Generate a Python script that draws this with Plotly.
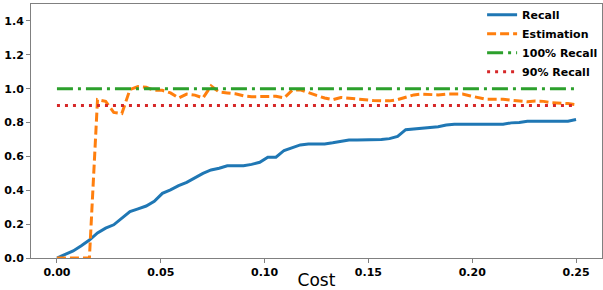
import plotly.graph_objects as go

cost = [0.0, 0.00391, 0.00781, 0.01172, 0.01563, 0.01953, 0.02344, 0.02734, 0.03125, 0.03516,
        0.03906, 0.04297, 0.04688, 0.05078, 0.05469, 0.05859, 0.0625, 0.06641, 0.07031, 0.07422,
        0.07813, 0.08203, 0.08594, 0.08984, 0.09375, 0.09766, 0.10156, 0.10547, 0.10938, 0.11328,
        0.11719, 0.12109, 0.125, 0.12891, 0.13281, 0.13672, 0.14063, 0.14453, 0.14844, 0.15234,
        0.15625, 0.16016, 0.16406, 0.16797, 0.17188, 0.17578, 0.17969, 0.18359, 0.1875, 0.19141,
        0.19531, 0.19922, 0.20313, 0.20703, 0.21094, 0.21484, 0.21875, 0.22266, 0.22656, 0.23047,
        0.23438, 0.23828, 0.24219, 0.24609, 0.25]

recall = [0.0, 0.022, 0.042, 0.073, 0.106, 0.148, 0.176, 0.196, 0.237, 0.274,
          0.29, 0.307, 0.335, 0.382, 0.402, 0.427, 0.447, 0.474, 0.50, 0.52,
          0.53, 0.545, 0.545, 0.545, 0.553, 0.565, 0.595, 0.595, 0.635, 0.652,
          0.668, 0.673, 0.673, 0.673, 0.68, 0.69, 0.697, 0.697, 0.697, 0.697,
          0.70, 0.705, 0.718, 0.758, 0.762, 0.765, 0.772, 0.775, 0.785, 0.79,
          0.79, 0.79, 0.79, 0.79, 0.79, 0.79, 0.798, 0.80, 0.808, 0.808,
          0.808, 0.808, 0.808, 0.808, 0.818]

estimation = [0.0, 0.0, 0.0, 0.0, 0.0, 0.935, 0.925, 0.86, 0.853, 0.995,
              1.012, 1.008, 0.99, 0.99, 0.975, 0.945, 0.968, 0.962, 0.945, 1.016,
              0.98, 0.975, 0.97, 0.958, 0.953, 0.953, 0.953, 0.955, 0.945, 0.99,
              0.993, 0.975, 0.96, 0.945, 0.935, 0.948, 0.943, 0.94, 0.935, 0.93,
              0.928, 0.928, 0.935, 0.95, 0.963, 0.968, 0.966, 0.963, 0.968, 0.969,
              0.968, 0.957, 0.945, 0.937, 0.937, 0.937, 0.932, 0.928, 0.923, 0.927,
              0.925, 0.917, 0.915, 0.912, 0.905]

ref_100 = [1.0] * len(cost)
ref_90 = [0.9] * len(cost)

x_ticks = [0.0, 0.05, 0.10, 0.15, 0.20, 0.25]
x_tick_labels = ["0.00", "0.05", "0.10", "0.15", "0.20", "0.25"]
y_ticks = [0.0, 0.2, 0.4, 0.6, 0.8, 1.0, 1.2, 1.4]
y_tick_labels = ["0.0", "0.2", "0.4", "0.6", "0.8", "1.0", "1.2", "1.4"]

fig = go.Figure()
fig.add_trace(go.Scatter(x=cost, y=recall, mode="lines", name="Recall",
                         line=dict(color="#1f77b4", width=3)))
fig.add_trace(go.Scatter(x=cost, y=estimation, mode="lines", name="Estimation",
                         line=dict(color="#ff7f0e", width=3, dash="9px,4px")))
fig.add_trace(go.Scatter(x=cost, y=ref_100, mode="lines", name="100% Recall",
                         line=dict(color="#2ca02c", width=3, dash="16px,5px,3px,5px")))
fig.add_trace(go.Scatter(x=cost, y=ref_90, mode="lines", name="90% Recall",
                         line=dict(color="#d62728", width=3, dash="3px,5px")))

tick_font = dict(family="DejaVu Sans", size=11, color="black", weight="bold")

fig.update_layout(
    width=603, height=290,
    margin=dict(l=31, r=1, t=4, b=32, autoexpand=False),
    paper_bgcolor="white", plot_bgcolor="white",
    showlegend=True,
    legend=dict(x=0.79, y=1.015, xanchor="left", yanchor="top",
                bgcolor="rgba(0,0,0,0)", borderwidth=0, itemwidth=30,
                font=dict(family="DejaVu Sans", size=11, color="black", weight="bold"),
                tracegroupgap=0),
    xaxis=dict(range=[-0.0125, 0.2625], tickvals=x_ticks, ticktext=x_tick_labels,
               tickfont=tick_font, ticks="outside", ticklen=4, tickcolor="#808080",
               showgrid=False, zeroline=False, showline=True, linecolor="#808080",
               linewidth=1, mirror=True, automargin=False,
               title=dict(text="Cost", font=dict(family="DejaVu Sans", size=17, color="black"),
                          standoff=0)),
    yaxis=dict(range=[0, 1.5], tickvals=y_ticks, ticktext=y_tick_labels,
               tickfont=tick_font, ticks="outside", ticklen=4, tickcolor="#808080",
               showgrid=False, zeroline=False, showline=True, linecolor="#808080",
               linewidth=1, mirror=True, automargin=False),
)

fig.write_html("out.html", config={"displayModeBar": False},
               post_script="document.body.style.margin='0';document.body.style.padding='0';")
